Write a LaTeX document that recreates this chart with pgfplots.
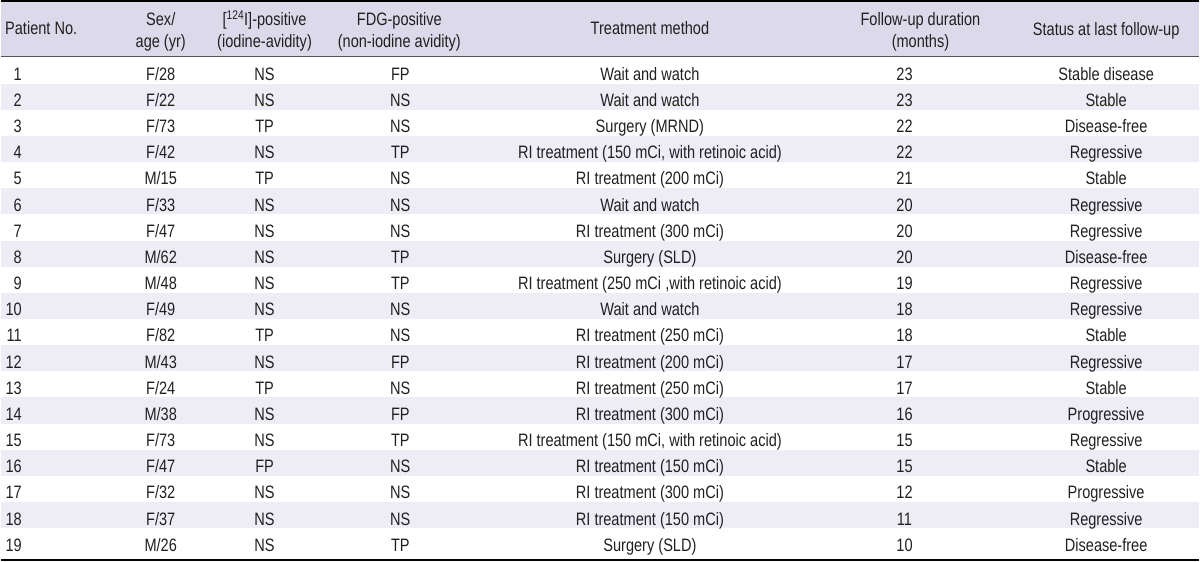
\documentclass[border=0pt]{standalone}
\usepackage{pgfplots}
\usepackage{pgfplotstable}
\pgfplotsset{compat=1.18}
\usepackage{fontspec}
\setmainfont{Liberation Sans}[FakeStretch=0.81]
\definecolor{headbg}{HTML}{DCDAEA}
\definecolor{stripe}{HTML}{EEEDF6}
\definecolor{txt}{HTML}{231F20}
\definecolor{midline}{HTML}{555555}

\pgfplotstableread[col sep=semicolon]{
row;no;sex;iod;fdg;treat;fu;status
1;1;F/28;NS;FP;Wait and watch;23;Stable disease
2;2;F/22;NS;NS;Wait and watch;23;Stable
3;3;F/73;TP;NS;Surgery (MRND);22;Disease-free
4;4;F/42;NS;TP;RI treatment (150 mCi, with retinoic acid);22;Regressive
5;5;M/15;TP;NS;RI treatment (200 mCi);21;Stable
6;6;F/33;NS;NS;Wait and watch;20;Regressive
7;7;F/47;NS;NS;RI treatment (300 mCi);20;Regressive
8;8;M/62;NS;TP;Surgery (SLD);20;Disease-free
9;9;M/48;NS;TP;RI treatment (250 mCi ,with retinoic acid);19;Regressive
10;10;F/49;NS;NS;Wait and watch;18;Regressive
11;11;F/82;TP;NS;RI treatment (250 mCi);18;Stable
12;12;M/43;NS;FP;RI treatment (200 mCi);17;Regressive
13;13;F/24;TP;NS;RI treatment (250 mCi);17;Stable
14;14;M/38;NS;FP;RI treatment (300 mCi);16;Progressive
15;15;F/73;NS;TP;RI treatment (150 mCi, with retinoic acid);15;Regressive
16;16;F/47;FP;NS;RI treatment (150 mCi);15;Stable
17;17;F/32;NS;NS;RI treatment (300 mCi);12;Progressive
18;18;F/37;NS;NS;RI treatment (150 mCi);11;Regressive
19;19;M/26;NS;TP;Surgery (SLD);10;Disease-free
}\patients

\newcommand{\cellfont}{\fontsize{18}{20}\selectfont}

\begin{document}
\begin{tikzpicture}
\begin{axis}[
  scale only axis, width=1200pt, height=562pt,
  xmin=0, xmax=1200, ymin=0, ymax=562, y dir=reverse,
  axis lines=none, clip=false,
  every node near coord/.append style={anchor=base, inner sep=0pt, font=\cellfont, text=txt},
]
% header background and stripes
\fill[headbg] (axis cs:0,0) rectangle (axis cs:1200,56.5);
\pgfplotsinvokeforeach{2,4,...,18}{
  \fill[stripe] (axis cs:0,{57.5+(#1-1)*26.2}) rectangle (axis cs:1200,{57.5+#1*26.2});
}
\draw[black, line width=2pt] (axis cs:0,1) -- (axis cs:1200,1);
\draw[midline, line width=1.3pt] (axis cs:0,56.5) -- (axis cs:1200,56.5);
\draw[black, line width=2pt] (axis cs:0,561) -- (axis cs:1200,561);

% header text
\begin{scope}[every node/.style={inner sep=0pt, font=\cellfont, text=txt}]
\node[anchor=base west] at (axis cs:4,35) {Patient No.};
\node[anchor=base] at (axis cs:160,25.5) {Sex/};
\node[anchor=base] at (axis cs:160,48) {age (yr)};
\node[anchor=base] at (axis cs:264,25.5) {[\textsuperscript{124}I]-positive};
\node[anchor=base] at (axis cs:264,48) {(iodine-avidity)};
\node[anchor=base] at (axis cs:399,25.5) {FDG-positive};
\node[anchor=base] at (axis cs:399,48) {(non-iodine avidity)};
\node[anchor=base] at (axis cs:650,35) {Treatment method};
\node[anchor=base] at (axis cs:921,25.5) {Follow-up duration};
\node[anchor=base] at (axis cs:921,48) {(months)};
\node[anchor=base] at (axis cs:1107,36) {Status at last follow-up};
\end{scope}

% data cells
\addplot[only marks, mark=none, point meta=explicit symbolic, nodes near coords,
  every node near coord/.append style={anchor=base east}]
  table[x expr=21, y expr={80.5+(\thisrow{row}-1)*26.2}, meta=no] {\patients};
\addplot[only marks, mark=none, point meta=explicit symbolic, nodes near coords]
  table[x expr=160, y expr={80.5+(\thisrow{row}-1)*26.2}, meta=sex] {\patients};
\addplot[only marks, mark=none, point meta=explicit symbolic, nodes near coords]
  table[x expr=264, y expr={80.5+(\thisrow{row}-1)*26.2}, meta=iod] {\patients};
\addplot[only marks, mark=none, point meta=explicit symbolic, nodes near coords]
  table[x expr=400, y expr={80.5+(\thisrow{row}-1)*26.2}, meta=fdg] {\patients};
\addplot[only marks, mark=none, point meta=explicit symbolic, nodes near coords]
  table[x expr=650, y expr={80.5+(\thisrow{row}-1)*26.2}, meta=treat] {\patients};
\addplot[only marks, mark=none, point meta=explicit symbolic, nodes near coords]
  table[x expr=905, y expr={80.5+(\thisrow{row}-1)*26.2}, meta=fu] {\patients};
\addplot[only marks, mark=none, point meta=explicit symbolic, nodes near coords]
  table[x expr=1107, y expr={80.5+(\thisrow{row}-1)*26.2}, meta=status] {\patients};
\end{axis}
\end{tikzpicture}
\end{document}
